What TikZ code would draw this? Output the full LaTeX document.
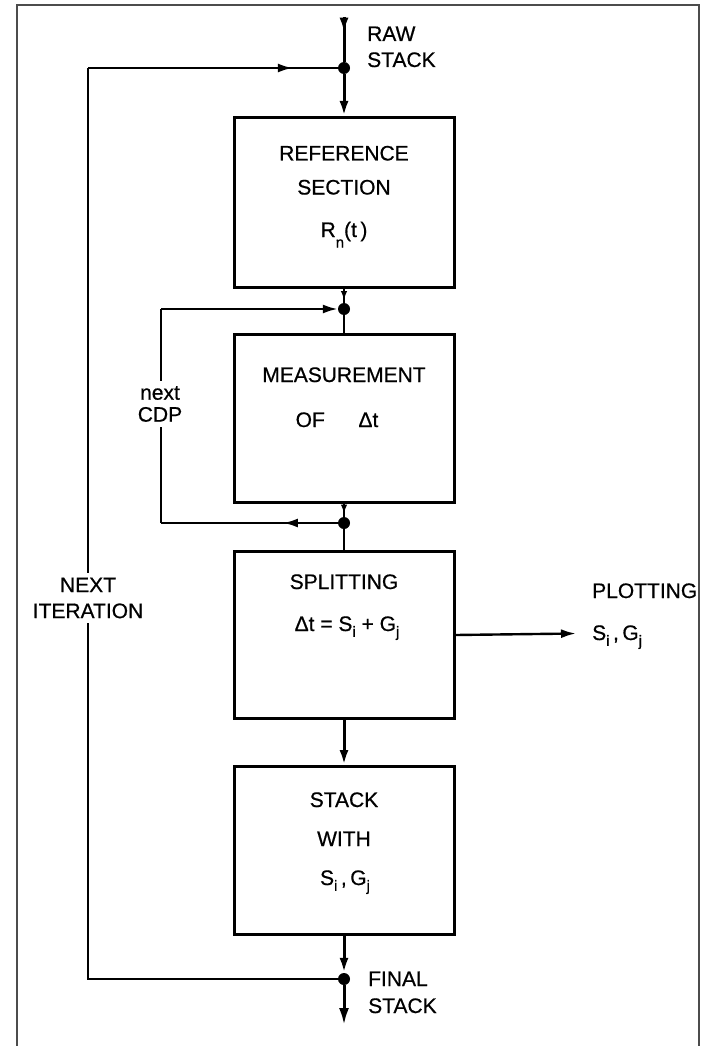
\documentclass[tikz,border=0pt]{standalone}
\usepackage{fontspec}
\setmainfont{Liberation Sans}[FakeBold=0.6]
\usetikzlibrary{arrows.meta,decorations.markings}
\newcommand\mysub[2][-0.28em]{\raisebox{#1}{\fontsize{15}{15}\selectfont #2}}
\begin{document}
\begin{tikzpicture}[x=1pt,y=-1pt,
  bigtip/.tip={Latex[length=15pt,width=9pt]},
  smalltip/.tip={Latex[length=9pt,width=6.5pt]},
  endtip/.tip={Latex[length=17pt,width=10pt]},
  box/.style={draw, line width=3pt, minimum width=220pt, inner sep=0pt, anchor=north},
  dot/.style={circle, fill, inner sep=0pt, minimum size=12pt},
  conn/.style={line width=2.4pt},
  main/.style={line width=3pt},
  midarr/.style={postaction={decorate}, decoration={markings, mark=at position #1 with {\arrow{bigtip}}}},
  midsmall/.style={postaction={decorate}, decoration={markings, mark=at position #1 with {\arrow{smalltip}}}},
  txt/.style={font=\fontsize{21}{25}\selectfont, inner sep=0pt, anchor=base},
  gap/.style={font=\fontsize{21}{26}\selectfont, align=center, fill=white, inner sep=5pt}
]
\useasboundingbox (0,0) rectangle (706,1046);
% frame
\draw[line width=2pt, black!70] (17,1046) -- (17,5) -- (699,5) -- (699,1046);

% nodes
\coordinate (in) at (344,17);
\node[dot] (d1) at (344,68) {};
\node[box, minimum height=170pt] (b1) at (344,116) {};
\node[dot] (d2) at (344,309) {};
\node[box, minimum height=168pt] (b2) at (344,333) {};
\node[dot] (d3) at (344,523) {};
\node[box, minimum height=167pt] (b3) at (344,550) {};
\node[box, minimum height=168pt] (b4) at (344,765) {};
\node[dot] (d4) at (344,979) {};
\coordinate (out) at (344,1025);
\coordinate (plot) at (576,633.5);
\coordinate (o1) at (88,979);
\coordinate (o2) at (88,68);
\coordinate (i1) at (161,523);
\coordinate (i2) at (161,309);

% connectors
\draw[main, midarr=0.35] (in) -- (d1);
\draw[main, -bigtip] (d1) -- (b1);
\draw[conn, midsmall=0.8] (b1) -- (d2);
\draw[conn] (d2) -- (b2);
\draw[conn, midsmall=0.75] (b2) -- (d3);
\draw[conn] (d3) -- (b3);
\draw[main, -bigtip] (b3) -- (b4);
\draw[main, -bigtip] (b4) -- (d4);
\draw[main, -endtip] (d4) -- (out);
\draw[conn] (d4) -- (o1) -- (o2);
\draw[conn, midarr=0.82] (o2) -- (d1);
\draw[conn, midarr=0.31] (d3) -- (i1);
\draw[conn] (i1) -- (i2);
\draw[conn, -bigtip] (i2) -- (d2);
\draw[conn, -bigtip] (b3.east) -- (plot);

% loop labels
\node[gap] (nextit) at (88,598) {NEXT\\ITERATION};
\node[gap] (nextcdp) at (160,404) {next\\[-4pt]CDP};

% outside labels
\node[txt, anchor=base west] (raw1) at (367,41) {RAW};
\node[txt, anchor=base west] (raw2) at (367,67) {STACK};
\node[txt, anchor=base west] (fin1) at (368,986) {FINAL};
\node[txt, anchor=base west] (fin2) at (368,1013) {STACK};
\node[txt, anchor=base west] (pl1) at (592,598) {PLOTTING};
\node[txt, anchor=base west] (pl2) at (592,640) {S\mysub{i}\,,\,G\mysub{j}};

% box texts
\node[txt] (t11) at (344,160.5) {REFERENCE};
\node[txt] (t12) at (344,194.5) {SECTION};
\node[txt] (t13) at (344,237) {R\mysub[-0.5em]{n}(t\,)};
\node[txt] (t21) at (344,382) {MEASUREMENT};
\node[txt] (t22) at (337,427) {OF\hspace{1.6em}Δt};
\node[txt] (t31) at (344,589) {SPLITTING};
\node[txt] (t32) at (347,631) {Δt = S\mysub{i} + G\mysub{j}};
\node[txt] (t41) at (344,807) {STACK};
\node[txt] (t42) at (344,846) {WITH};
\node[txt] (t43) at (345,885) {S\mysub{i}\,,\,G\mysub{j}};
\end{tikzpicture}
\end{document}
